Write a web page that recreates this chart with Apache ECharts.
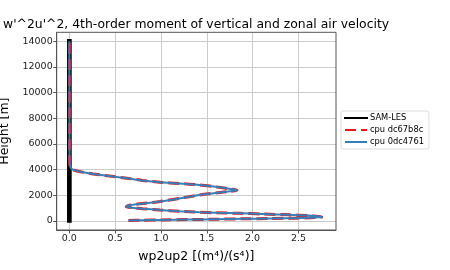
<!DOCTYPE html>
<html>
<head>
<meta charset="utf-8">
<script src="https://cdn.jsdelivr.net/npm/echarts@6/dist/echarts.min.js"></script>
<style>html,body{margin:0;padding:0;background:#fff}#c{width:450px;height:270px}</style>
</head>
<body>
<div id="c"></div>
<script>
const titleText = "w'^2u'^2, 4th-order moment of vertical and zonal air velocity";
const xTicks = [0.0, 0.5, 1.0, 1.5, 2.0, 2.5];
const yTicks = [0, 2000, 4000, 6000, 8000, 10000, 12000, 14000];
const seriesNames = ["SAM-LES", "cpu dc67b8c", "cpu 0dc4761"];
const samX = [0.0, 0.0];
const samH = [50, 14000];
const cpuAX = [0.645, 0.8, 1.0, 1.3, 1.6, 1.9, 2.2, 2.45, 2.62, 2.72, 2.755, 2.72, 2.6, 2.4, 2.1, 1.86, 1.6, 1.42, 1.2, 0.99, 0.8, 0.68, 0.62, 0.64, 0.75, 0.99, 1.2, 1.42, 1.62, 1.76, 1.83, 1.78, 1.6, 1.42, 1.2, 0.99, 0.8, 0.63, 0.44, 0.26, 0.12, 0.044, 0.015, 0.005, 0.002, 0.001, 0.0];
const cpuAH = [40, 60, 80, 110, 140, 170, 200, 220, 250, 285, 320, 360, 420, 480, 550, 600, 640, 680, 760, 860, 960, 1040, 1110, 1200, 1320, 1520, 1760, 2030, 2210, 2310, 2390, 2470, 2660, 2810, 2920, 3020, 3160, 3330, 3500, 3670, 3840, 3980, 4150, 4370, 5000, 8000, 14000];
const cpuBX = cpuAX.slice();
const cpuBH = cpuAH.slice();

function pairs(xs, hs) { return xs.map((x, i) => [x, hs[i]]); }

const chart = echarts.init(document.getElementById('c'), null, {renderer: 'canvas'});
const font = 'DejaVu Sans';
const G = {left: 56.7, right: 114, top: 32.3, bottom: 40};
chart.setOption({
  animation: false,
  backgroundColor: '#fff',
  title: {
    text: titleText, left: -2, top: 14,
    textStyle: {fontFamily: font, fontSize: 12.4, fontWeight: 'normal', color: '#000'}
  },
  legend: {
    orient: 'vertical', left: 341, top: 111,
    data: seriesNames,
    itemWidth: 22, itemHeight: 8, itemGap: 4,
    padding: [3, 5, 3, 3],
    borderColor: '#ddd', borderWidth: 1, borderRadius: 2,
    itemStyle: {opacity: 0},
    textStyle: {fontFamily: font, fontSize: 8.3, color: '#000', padding: [0,0,0,-2]}
  },
  grid: {left: G.left, right: G.right, top: G.top, bottom: G.bottom, containLabel: false, outerBoundsMode: 'none', show: false},
  xAxis: {
    type: 'value', min: -0.138, max: 2.91,
    name: 'wp2up2 [(m⁴)/(s⁴)]', nameLocation: 'middle', nameGap: 20,
    nameTextStyle: {fontFamily: font, fontSize: 12.5, color: '#000'},
    axisLine: {show: true, onZero: false, lineStyle: {color: '#555', width: 1}},
    axisTick: {show: true, length: 3.5, customValues: xTicks, lineStyle: {color: '#555'}},
    axisLabel: {customValues: xTicks, fontFamily: font, fontSize: 9.5, color: '#222', margin: 4,
      formatter: v => v.toFixed(1)},
    splitLine: {show: true, lineStyle: {color: '#ccc', width: 1}}
  },
  yAxis: {
    type: 'value', min: -700, max: 14700,
    name: 'Height [m]', nameLocation: 'middle', nameGap: 36,
    nameTextStyle: {fontFamily: font, fontSize: 12.5, color: '#000'},
    axisLine: {show: true, onZero: false, lineStyle: {color: '#555', width: 1}},
    axisTick: {show: true, length: 3.5, customValues: yTicks, lineStyle: {color: '#555'}},
    axisLabel: {customValues: yTicks, fontFamily: font, fontSize: 9.5, color: '#222', margin: 4,
      formatter: v => String(v)},
    splitLine: {show: true, lineStyle: {color: '#ccc', width: 1}}
  },
  series: [
    {name: seriesNames[0], type: 'line', data: pairs(samX, samH), symbol: 'none',
     lineStyle: {color: '#000', width: 4.7, cap: 'square'}, itemStyle: {color: '#000'}},
    {name: seriesNames[1], type: 'line', data: pairs(cpuAX, cpuAH), symbol: 'none', smooth: 0.2,
     lineStyle: {color: '#e41a1c', width: 3, type: [11, 5]}, itemStyle: {color: '#e41a1c'}},
    {name: seriesNames[2], type: 'line', data: pairs(cpuBX, cpuBH), symbol: 'none', smooth: 0.2,
     lineStyle: {color: '#377eb8', width: 2}, itemStyle: {color: '#377eb8'}}
  ],
  graphic: [{
    type: 'rect', shape: {x: G.left, y: G.top, width: 450-G.right-G.left, height: 270-G.bottom-G.top},
    style: {fill: 'none', stroke: '#555', lineWidth: 1}, silent: true, z: 10
  }]
});
</script>
</body>
</html>
